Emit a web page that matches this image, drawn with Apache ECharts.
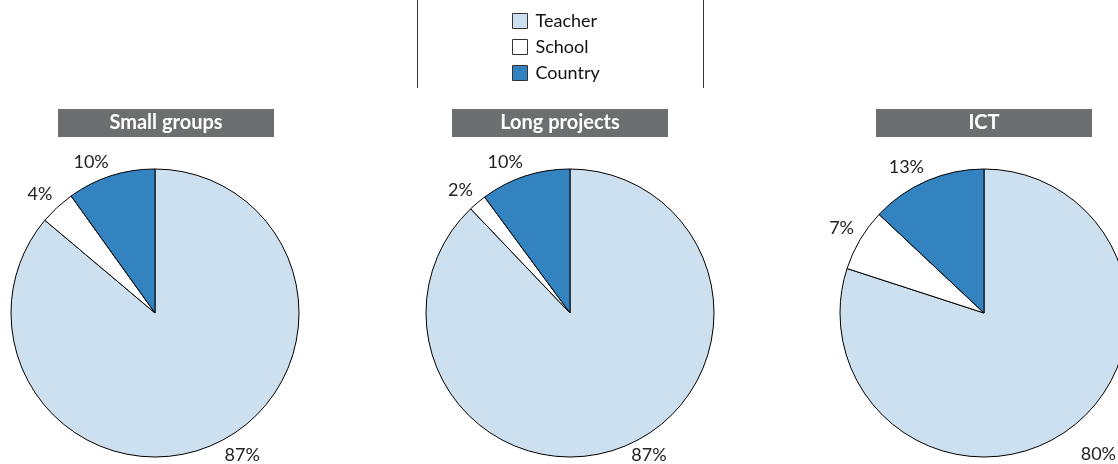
<!DOCTYPE html>
<html><head><meta charset="utf-8">
<script src="https://cdn.jsdelivr.net/npm/echarts@6/dist/echarts.min.js"></script>
<style>html,body{margin:0;padding:0;background:#fff}#c{width:1118px;height:464px}</style>
</head><body><div id="c"></div>
<script>
const categories = ['Teacher', 'School', 'Country'];
const panels = ['Small groups', 'Long projects', 'ICT'];
const smallGroups = [87, 4, 10];
const longProjects = [87, 2, 10];
const ict = [80, 7, 13];
const panelValues = [smallGroups, longProjects, ict];
const colors = ['#cce0ef', '#ffffff', '#3383c0'];

const FONT = 'Lato, "Open Sans", sans-serif';
const W = 1118, H = 464;
const CY = 313, R = 144;
const centers = [155, 570, 984];
const titleCenters = [166, 560, 984];
const chart = echarts.init(document.getElementById('c'));

function makeLayout(i) {
  const vals = panelValues[i];
  const total = vals.reduce((a, b) => a + b, 0);
  return function (params) {
    const j = params.dataIndex;
    let before = 0;
    for (let k = 0; k < j; k++) before += vals[k];
    const th = (before + vals[j] / 2) / total * 2 * Math.PI;
    const s = Math.sin(th), c = Math.cos(th);
    const rr = c < 0 ? R + 21 : R + 7;
    const w = params.labelRect.width, h = 15;
    let x = centers[i] + rr * s + Math.sign(s) * w / 2;
    let y = CY - rr * c - Math.sign(c) * h / 2;
    x = Math.min(x, W - w / 2 - 2);
    y = Math.min(y, H - h / 2 - 1);
    return { x: x, y: y, align: 'center', verticalAlign: 'middle' };
  };
}

const series = panelValues.map((vals, i) => ({
  type: 'pie',
  center: [centers[i], CY],
  radius: R,
  startAngle: 90,
  clockwise: true,
  animation: false,
  silent: true,
  data: vals.map((v, j) => ({ name: categories[j], value: v, itemStyle: { color: colors[j] } })),
  itemStyle: { borderColor: '#000', borderWidth: 1 },
  label: {
    show: true, position: 'outside', formatter: p => p.value + '%',
    fontFamily: FONT, fontSize: 18, color: '#222', overflow: 'none'
  },
  labelLine: { show: false, length: 6, length2: 0 },
  labelLayout: makeLayout(i)
}));

const graphic = [
  { type: 'line', shape: { x1: 417.5, y1: 0, x2: 417.5, y2: 88 }, style: { stroke: '#333', lineWidth: 1 } },
  { type: 'line', shape: { x1: 703.5, y1: 0, x2: 703.5, y2: 88 }, style: { stroke: '#333', lineWidth: 1 } }
];
panels.forEach((t, i) => {
  graphic.push({ type: 'rect', shape: { x: titleCenters[i] - 108, y: 109, width: 216, height: 28 }, style: { fill: '#6d6e70' } });
  graphic.push({ type: 'text', x: titleCenters[i], y: 123, style: { text: t, fill: '#fff', font: 'bold 20px ' + FONT, align: 'center', verticalAlign: 'middle' } });
});

chart.setOption({
  animation: false,
  legend: {
    orient: 'vertical', left: 507, top: 7,
    data: categories, itemWidth: 15, itemHeight: 15, itemGap: 8,
    icon: 'rect',
    itemStyle: { borderColor: '#333', borderWidth: 1 },
    textStyle: { fontFamily: FONT, fontSize: 18, lineHeight: 16, color: '#111', padding: [0, 0, 0, 3] },
    selectedMode: false
  },
  series,
  graphic
});
</script></body></html>
